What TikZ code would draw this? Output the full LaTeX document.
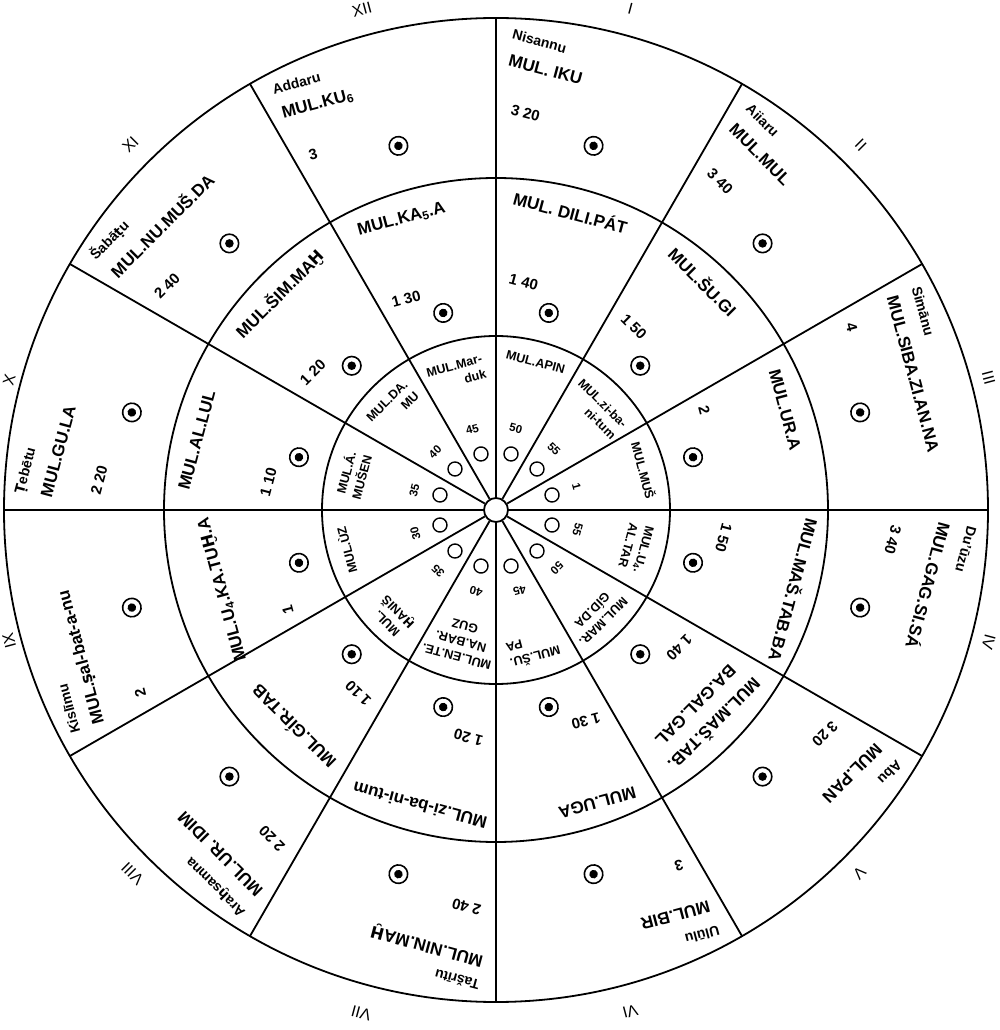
\documentclass[tikz,border=0pt]{standalone}
\usepackage{fontspec}
\setmainfont{Liberation Sans}
\newfontfamily\extfont{DejaVu Sans}[Scale=0.95]
\newcommand{\Hbr}{{\extfont Ḫ}}
\newcommand{\hbr}{{\extfont ḫ}}
\newcommand{\Tdt}{{\extfont Ṭ}}
\newcommand{\tdt}{{\extfont ṭ}}
\newcommand{\sdt}{{\extfont ṣ}}

\begin{document}
\begin{tikzpicture}[
    x=1pt, y=1pt,
    ring/.style={line width=1.8pt},
    spoke/.style={line width=1.8pt},
    romnum/.style={font=\fontsize{16}{16}\selectfont, inner sep=0pt},
    monthlbl/.style={anchor=west, font=\bfseries\fontsize{14}{14}\selectfont, inner sep=0pt},
    starlbl/.style={anchor=west, font=\bfseries\fontsize{17}{17}\selectfont, inner sep=0pt},
    numlbl/.style={anchor=west, font=\bfseries\fontsize{15}{15}\selectfont, inner sep=0pt},
    midlbl/.style={align=center, font=\bfseries\fontsize{17}{22}\selectfont, inner sep=0pt},
    innlbl/.style={font=\bfseries\fontsize{12.5}{16}\selectfont, inner sep=0pt},
    innnum/.style={font=\bfseries\fontsize{11.5}{11.5}\selectfont, inner sep=0pt},
    bull/.style={circle, draw, line width=1.6pt, minimum size=18.5pt, inner sep=0pt},
    hollow/.style={circle, draw, line width=1.4pt, minimum size=14pt, inner sep=0pt}
]
    \useasboundingbox (-496,-520) rectangle (504,510);

    \draw[ring] (0,0) circle (492);
    \draw[ring] (0,0) circle (332);
    \draw[ring] (0,0) circle (174);
    \node[circle, draw, line width=1.8pt, minimum size=24pt, inner sep=0pt, fill=white] (hub) at (0,0) {};
    \foreach \a in {0,30,...,330}
        \draw[spoke] (hub.\a) -- (\a:492);

    \foreach \k/\rom/\rr/\mon/\ostar/\onum/\mx/\my/\mstar/\mnum/\ix/\iy/\ial/\istar/\inum in {
        1/I/519/Nisannu/MUL. IKU/3 20/-5/307/MUL. DILI.PÁT/1 40/0/153/center/MUL.APIN/50,
        2/II/516/Aiiaru/MUL.MUL/3 40/-15/308/MUL.ŠU.GI/1 50/0/143/right/MUL.zi-ba-\\ni-tum/55,
        3/III/510/Simānu/MUL.SIBA.ZI.AN.NA/4/-22/305/MUL.UR.A/2/0/153/center/MUL.MUŠ/1,
        4/IV/510/Du'ūzu/MUL.GAG.SI.SÁ/3 40/0/309/MUL.MAŠ.TAB.BA/1 50/0/145/center/MUL.U\textsubscript{4}.\\AL.TAR/55,
        5/V/514/Abu/MUL.PAN/3 20/-3/294/MUL.MAŠ.TAB.\\[4pt]BA.GAL.GAL/1 40/3/147/center/MUL.MAR.\\GÍD.DA/50,
        6/VI/519/Ulūlu/MUL.BIR/3/-22/309/MUL.UGA/1 30/0/145/right/MUL.ŠU.\\PA/45,
        7/VII/521/Tašrītu/MUL.NIN.MA\Hbr/2 40/-3/305/MUL.zi-ba-ni-tum/1 20/0/136/center/MUL.EN.TE.\\NA.BAR.\\GUZ/40,
        8/VIII/514/Ara\hbr samna/MUL.UR. IDIM/2 20/-10/297/MUL.GÍR.TAB/1 10/-3/148/center/MUL.\\\Hbr ANIŠ/35,
        9/IX/504/Kislīmu/MUL.\sdt al-bat-a-nu/2/-6/284/MUL.U\textsubscript{4}.KA.TU\Hbr.A/1/0/155/center/MUL.ÙZ/30,
        10/X/504/\Tdt ebētu/MUL.GU.LA/2 20/-10/307/MUL.AL.LUL/1 10/-3/147/center/MUL.Á.\\MUŠEN/35,
        11/XI/517/Šabā\tdt u/MUL.NU.MUŠ.DA/2 40/0/305/MUL.ŠIM.MA\Hbr/1 20/0/146/right/MUL.DA.\\MU/40,
        12/XII/518/Addaru/MUL.KU\textsubscript{6}/3/-16/305/MUL.KA\textsubscript{5}.A/1 30/-3/142/right/MUL.Mar-\\duk/45}
    {
        \begin{scope}[rotate={-15-30*(\k-1)}, transform shape]
            \node[romnum] (rom-\k) at (0,\rr) {\rom};
            \node[monthlbl] (month-\k) at (-107,464) {\mon};
            \node[starlbl] (ostar-\k) at (-104,438) {\ostar};
            \node[numlbl] (onum-\k) at (-89,391) {\onum};
            \node[bull] (odot-\k) at (0,377) {};
            \fill (odot-\k.center) circle (4.3);
            \node[midlbl] (mstar-\k) at (\mx,\my) {\mstar};
            \node[numlbl] (mnum-\k) at (-47,227) {\mnum};
            \node[bull] (mdot-\k) at (0,204) {};
            \fill (mdot-\k.center) circle (4.3);
            \node[innlbl, align=\ial] (istar-\k) at (\ix,\iy) {\istar};
            \node[innnum] (inum-\k) at (-2,84) {\inum};
            \node[hollow] (iring-\k) at (0,58) {};
        \end{scope}
    }
\end{tikzpicture}
\end{document}
